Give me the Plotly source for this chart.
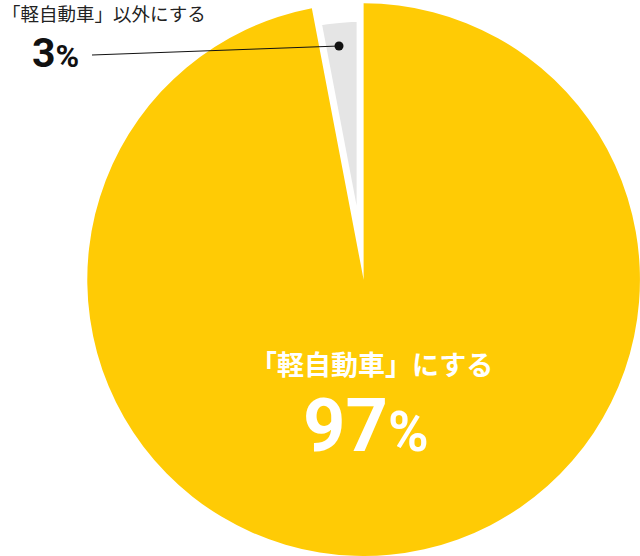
import plotly.graph_objects as go

categories = ["「軽自動車」にする", "「軽自動車」以外にする"]
values = [97, 3]
colors = ["#FFCB05", "#E5E5E5"]

W, H = 640, 556
def px(x):
    return x / W
def py(y):
    return 1 - y / H

fig = go.Figure()

# grey slice (smaller, with white outline giving the gap)
fig.add_trace(go.Pie(
    labels=categories, values=values, sort=False, direction="clockwise", rotation=0,
    marker=dict(colors=["rgba(0,0,0,0)", colors[1]],
                line=dict(color=["rgba(0,0,0,0)", "white"], width=14)),
    textinfo="none", hoverinfo="label+value", showlegend=False,
    domain=dict(x=[0.1541, 0.9822], y=[0.0203, 0.9736]),
))
# yellow slice on top
fig.add_trace(go.Pie(
    labels=categories, values=values, sort=False, direction="clockwise", rotation=0,
    marker=dict(colors=[colors[0], "rgba(0,0,0,0)"], line=dict(width=0)),
    textinfo="none", hoverinfo="label+value", showlegend=False,
    domain=dict(x=[0.1363, 1.0], y=[0.0, 0.994]),
))

cjk = "Noto Sans CJK JP"
num = "Roboto"

fig.add_annotation(x=px(0), y=py(13), xref="paper", yref="paper", xanchor="left", yanchor="middle",
                   text=categories[1], showarrow=False,
                   font=dict(family=cjk, size=18.5, color="#222222"))
fig.add_annotation(x=px(55), y=py(53), xref="paper", yref="paper", xanchor="center", yanchor="middle",
                   text=f"{values[1]}<span style='font-size:32px'>%</span>", showarrow=False,
                   font=dict(family=num, size=41, color="#111111", weight=700))
fig.add_annotation(x=px(371), y=py(363), xref="paper", yref="paper", xanchor="center", yanchor="middle",
                   text=categories[0], showarrow=False,
                   font=dict(family=cjk, size=27, color="white", weight=700))
fig.add_annotation(x=px(366), y=py(425), xref="paper", yref="paper", xanchor="center", yanchor="middle",
                   text=f"{values[0]}<span style='font-size:55px'>%</span>", showarrow=False,
                   font=dict(family=num, size=74, color="white", weight=700))

# leader line and dot
fig.add_shape(type="line", xref="paper", yref="paper", x0=px(92), y0=py(55), x1=px(339), y1=py(46),
              line=dict(color="#111111", width=1))
fig.add_shape(type="circle", xref="paper", yref="paper", x0=px(334.5), y0=py(41.5), x1=px(343.5), y1=py(50.5),
              fillcolor="#111111", line=dict(width=0))

fig.update_layout(width=W, height=H, margin=dict(l=0, r=0, t=0, b=0),
                  paper_bgcolor="white", plot_bgcolor="white")

fig.write_html("out.html", config={"displayModeBar": False},
               post_script="document.body.style.margin='0';document.body.style.overflow='hidden';")
